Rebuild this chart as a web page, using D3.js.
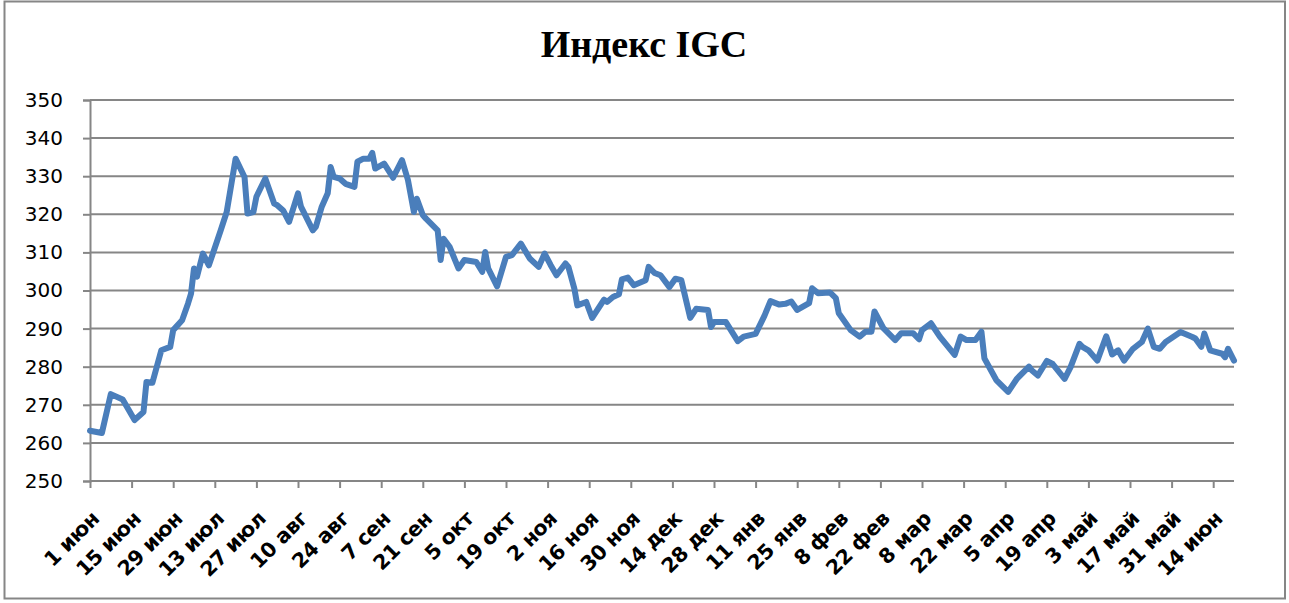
<!DOCTYPE html>
<html>
<head>
<meta charset="utf-8">
<script src="https://cdn.jsdelivr.net/npm/d3@7"></script>
<style>
body{margin:0;background:#fff;}
</style>
</head>
<body>
<svg id="igc"></svg>
<script>
// chart data
var dates = ["2020-06-01","2020-06-05","2020-06-08","2020-06-12","2020-06-16","2020-06-19","2020-06-20","2020-06-22","2020-06-25","2020-06-28",
"2020-06-29","2020-07-02","2020-07-04","2020-07-05","2020-07-06","2020-07-07","2020-07-09","2020-07-11","2020-07-15","2020-07-17",
"2020-07-20","2020-07-23","2020-07-24","2020-07-26","2020-07-27","2020-07-30","2020-08-02","2020-08-03","2020-08-05","2020-08-07",
"2020-08-10","2020-08-11","2020-08-15","2020-08-16","2020-08-18","2020-08-20","2020-08-21","2020-08-22","2020-08-24","2020-08-26",
"2020-08-29","2020-08-30","2020-09-01","2020-09-03","2020-09-04","2020-09-05","2020-09-08","2020-09-11","2020-09-14","2020-09-16",
"2020-09-18","2020-09-19","2020-09-21","2020-09-22","2020-09-26","2020-09-27","2020-09-28","2020-09-30","2020-10-03","2020-10-05",
"2020-10-09","2020-10-11","2020-10-12","2020-10-13","2020-10-16","2020-10-19","2020-10-21","2020-10-24","2020-10-27","2020-10-30",
"2020-11-01","2020-11-03","2020-11-05","2020-11-08","2020-11-09","2020-11-11","2020-11-12","2020-11-15","2020-11-17","2020-11-21",
"2020-11-22","2020-11-24","2020-11-26","2020-11-27","2020-11-29","2020-12-01","2020-12-05","2020-12-06","2020-12-08","2020-12-10",
"2020-12-13","2020-12-15","2020-12-17","2020-12-20","2020-12-22","2020-12-26","2020-12-27","2020-12-28","2021-01-01","2021-01-05",
"2021-01-07","2021-01-11","2021-01-14","2021-01-16","2021-01-19","2021-01-21","2021-01-23","2021-01-25","2021-01-29","2021-01-30",
"2021-02-01","2021-02-05","2021-02-07","2021-02-08","2021-02-12","2021-02-15","2021-02-17","2021-02-19","2021-02-20","2021-02-23",
"2021-02-27","2021-03-01","2021-03-05","2021-03-07","2021-03-08","2021-03-11","2021-03-14","2021-03-19","2021-03-21","2021-03-23",
"2021-03-26","2021-03-28","2021-03-29","2021-04-02","2021-04-06","2021-04-09","2021-04-13","2021-04-14","2021-04-16","2021-04-19",
"2021-04-21","2021-04-25","2021-04-27","2021-04-30","2021-05-01","2021-05-03","2021-05-06","2021-05-09","2021-05-11","2021-05-13",
"2021-05-15","2021-05-18","2021-05-21","2021-05-23","2021-05-25","2021-05-27","2021-05-29","2021-06-03","2021-06-07","2021-06-08",
"2021-06-10","2021-06-11","2021-06-13","2021-06-17","2021-06-18","2021-06-19","2021-06-21"]

var values = [263.2,262.6,272.8,271.4,266.0,268.1,276.0,275.8,284.3,285.2,
289.6,292.2,296.6,299.2,305.8,303.6,309.7,306.6,315.8,320.6,
334.6,329.8,320.2,320.6,324.6,329.4,322.8,322.4,321.0,318.0,
325.5,322.0,315.8,316.7,322.0,325.5,332.4,329.8,329.4,328.0,
327.2,333.8,334.6,334.6,336.1,332.0,333.3,329.6,334.2,329.0,
320.6,324.1,319.8,318.9,315.8,308.0,313.6,311.5,305.8,308.0,
307.5,304.9,310.1,305.8,301.1,308.8,309.3,312.3,308.4,306.2,
309.7,306.7,304.0,307.1,306.2,300.5,296.1,297.0,292.8,297.6,
297.0,298.3,299.0,302.9,303.4,301.4,302.7,306.2,304.6,304.0,
300.9,303.1,302.7,292.8,295.2,294.9,290.4,291.7,291.7,286.7,
287.9,288.6,293.4,297.2,296.3,296.5,297.1,294.9,296.7,300.6,
299.3,299.5,298.0,294.0,289.6,287.9,289.2,289.2,294.5,290.1,
287.0,288.8,288.8,287.2,289.6,291.4,287.9,283.1,287.9,287.0,
287.0,289.2,282.2,276.5,273.4,276.9,280.0,279.0,277.7,281.5,
280.7,276.8,279.9,286.0,285.2,284.3,281.6,288.0,283.2,284.3,
281.6,284.7,286.5,290.0,285.2,284.7,286.5,289.1,287.8,287.4,
285.2,288.7,284.3,283.4,282.5,284.7,281.6]

var yTicks = [250,260,270,280,290,300,310,320,330,340,350]
var monthNames = ["янв","фев","мар","апр","май","июн","июл","авг","сен","окт","ноя","дек"]
var axisStart = "2020-06-01"
var axisEnd = "2021-06-21"
var chartTitle = "Индекс IGC"

var parseDate = d3.timeParse("%Y-%m-%d")

var makeTranslateString = function(x,y)
{
    return "translate("+x+","+y+")";
}

var drawFrame = function(svg,screen)
{
    svg.append("rect")
    .attr("x",4.5)
    .attr("y",1.5)
    .attr("width",screen.width-8.5)
    .attr("height",screen.height-6)
    .attr("fill","white")
    .attr("stroke","#868686")
    .attr("stroke-width",2)

    svg.append("text")
    .text(chartTitle)
    .attr("x",644)
    .attr("y",57)
    .attr("text-anchor","middle")
    .attr("font-family","'Liberation Serif','Times New Roman',serif")
    .attr("font-weight","bold")
    .attr("font-size",38)
    .attr("fill","#000")
}

var drawAxes = function(svg,plot,xScale,yScale,tickDates)
{
    // horizontal grid
    svg.append("g")
    .selectAll("line")
    .data(yTicks.slice(1))
    .enter()
    .append("line")
    .attr("x1",plot.left)
    .attr("x2",plot.right)
    .attr("y1",function(t){return yScale(t);})
    .attr("y2",function(t){return yScale(t);})
    .attr("stroke","#868686")
    .attr("stroke-width",2)

    var yAxis = d3.axisLeft(yScale)
        .tickValues(yTicks)
        .tickSize(7)
        .tickPadding(20)

    var yg = svg.append("g")
    .attr("transform",makeTranslateString(plot.left,0))
    .call(yAxis)
    yg.select(".domain").attr("stroke","#868686").attr("stroke-width",2)
    yg.selectAll(".tick line").attr("stroke","#868686").attr("stroke-width",2)
    yg.selectAll(".tick text")
    .attr("font-family","'DejaVu Sans',Verdana,sans-serif")
    .attr("font-size",20)
    .attr("fill","#000")

    var xAxis = d3.axisBottom(xScale)
        .tickValues(tickDates)
        .tickSize(7)
        .tickFormat(function(d){return d.getDate()+" "+monthNames[d.getMonth()];})

    var xg = svg.append("g")
    .attr("transform",makeTranslateString(0,plot.bottom))
    .call(xAxis)
    xg.select(".domain").attr("stroke","#868686").attr("stroke-width",2).attr("d","M"+plot.left+",0H"+plot.right)
    xg.selectAll(".tick line").attr("stroke","#868686").attr("stroke-width",2)
    xg.selectAll(".tick text")
    .attr("font-family","'DejaVu Sans',Verdana,sans-serif")
    .attr("font-weight","bold")
    .attr("font-size",20.5)
    .attr("letter-spacing",-0.5)
    .attr("fill","#000")
    .attr("text-anchor","end")
    .attr("dy",0)
    .attr("y",0)
    .attr("transform","translate(10,39) rotate(-45)")
}

var drawLine = function(svg,series,xScale,yScale)
{
    var line = d3.line()
        .x(function(p){return xScale(p.date);})
        .y(function(p){return yScale(p.value);})

    svg.append("path")
    .datum(series)
    .attr("d",line)
    .attr("fill","none")
    .attr("stroke","#4a7ebb")
    .attr("stroke-width",6)
    .attr("stroke-linejoin","round")
    .attr("stroke-linecap","round")
}

var initGraph = function()
{
    var screen = {width:1289,height:603}
    var plot = {left:90,right:1234,top:100,bottom:481}

    var svg = d3.select("#igc")
    .attr("width",screen.width)
    .attr("height",screen.height)

    var series = dates.map(function(d,i){return {date:parseDate(d),value:values[i]};})

    var start = parseDate(axisStart)
    var end = parseDate(axisEnd)

    var xScale = d3.scaleTime()
        .domain([start,end])
        .range([plot.left,plot.right])

    var yScale = d3.scaleLinear()
        .domain([yTicks[0],yTicks[yTicks.length-1]])
        .range([plot.bottom,plot.top])

    var tickDates = d3.timeDay.range(start,end,14)

    drawFrame(svg,screen)
    drawAxes(svg,plot,xScale,yScale,tickDates)
    drawLine(svg,series,xScale,yScale)
}

initGraph()
</script>
</body>
</html>
